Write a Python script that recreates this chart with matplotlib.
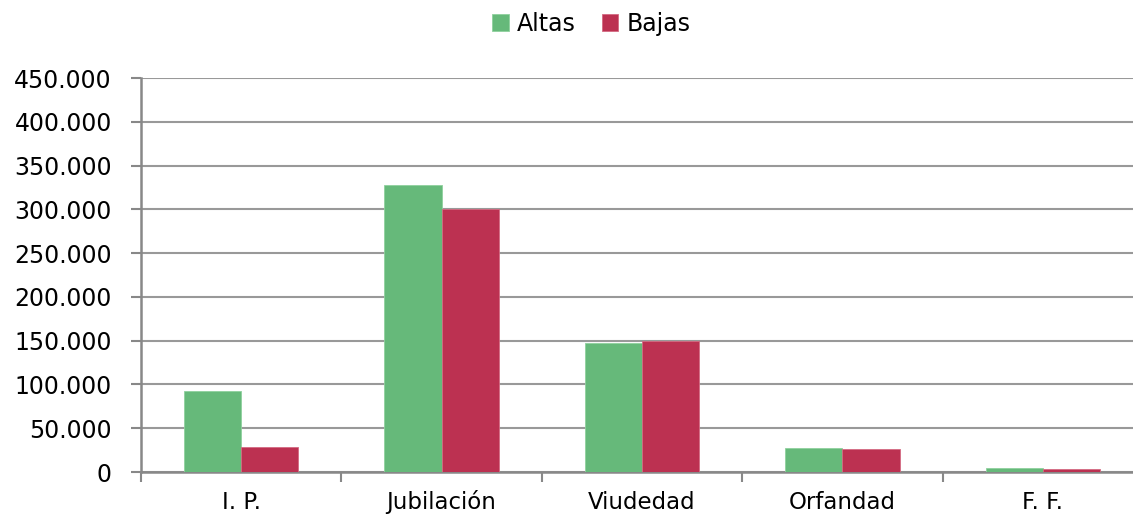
import matplotlib
matplotlib.use("Agg")
import matplotlib.pyplot as plt
import numpy as np
from matplotlib.ticker import FuncFormatter, FixedLocator
import matplotlib.transforms as mtransforms

categories = ["I. P.", "Jubilación", "Viudedad", "Orfandad", "F. F."]
altas = [92000, 328000, 147000, 27000, 4200]
bajas = [28000, 300000, 149500, 26000, 3100]
series_names = ["Altas", "Bajas"]
colors = ["#66B97A", "#BC3151"]

plt.rcParams['font.family'] = ['DejaVu Sans']
fig = plt.figure(figsize=(11.33, 5.15), dpi=100)
ax = fig.add_axes([141/1133, 1-472/515, (1143-141)/1133, (472-78)/515])

x = np.arange(len(categories))
w = 1/3.5
ax.bar(x - w/2, altas, w, color=colors[0], label=series_names[0], edgecolor="#8fd19e", linewidth=0.6, zorder=3)
ax.bar(x + w/2, bajas, w, color=colors[1], label=series_names[1], edgecolor="#d46a82", linewidth=0.6, zorder=3)

ax.set_xlim(-0.5, len(categories) - 0.5)
ax.set_ylim(0, 450000)
ax.set_yticks(np.arange(0, 450001, 50000))
ax.yaxis.set_major_formatter(FuncFormatter(lambda v, p: f"{int(v):,}".replace(",", ".")))
ax.grid(axis="y", color="#999999", linewidth=1.5, zorder=0)
ax.set_axisbelow(True)

ax.set_xticks(x)
ax.set_xticklabels([])
trans = mtransforms.blended_transform_factory(ax.transData, fig.transFigure)
for xi, lab in zip(x, categories):
    ax.text(xi, 1 - 509/515, lab, transform=trans, ha="center", va="baseline", fontsize=16.5)
ax.xaxis.set_minor_locator(FixedLocator(np.arange(-0.5, len(categories), 1)))
ax.tick_params(axis="x", which="major", length=0)
ax.tick_params(axis="x", which="minor", length=7, width=1.5, color="#888888")
ax.tick_params(axis="y", length=7, width=1.5, color="#888888", labelsize=17, pad=14)

for s in ["top", "right"]:
    ax.spines[s].set_visible(False)
for s in ["left", "bottom"]:
    ax.spines[s].set_color("#888888")
    ax.spines[s].set_linewidth(1.8)

fig.legend(loc="center", bbox_to_anchor=(0.522, 1 - 24/515), ncol=2, frameon=False,
           fontsize=17, handlelength=0.7, handleheight=0.7, handletextpad=0.35,
           columnspacing=1.1, borderpad=0)

fig.savefig("out.png", dpi=100)
